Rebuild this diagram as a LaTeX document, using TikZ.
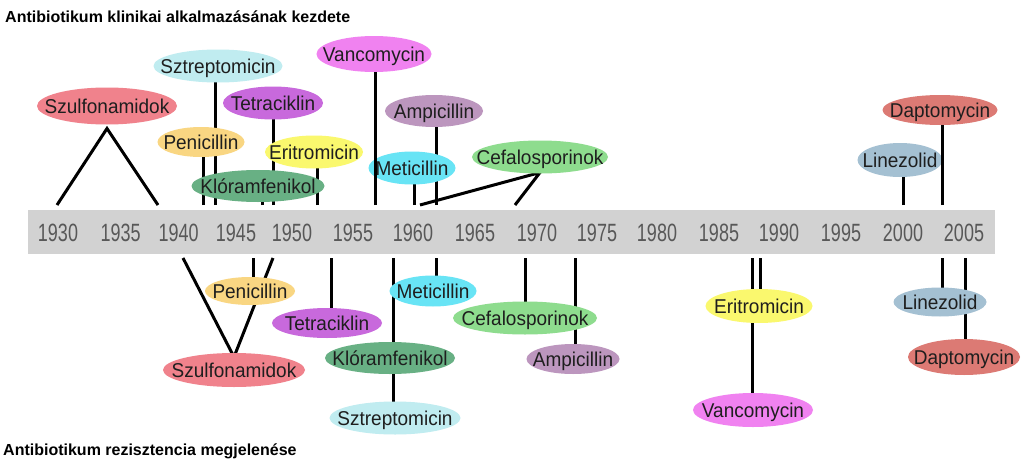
\documentclass[tikz,border=0pt]{standalone}
\usepackage{fontspec}
\setmainfont{Liberation Sans}
\newfontfamily\pillfont[FakeStretch=0.95]{Liberation Sans}
\newfontfamily\yearfont[FakeStretch=0.72]{Liberation Sans}
\usetikzlibrary{shapes.geometric}
\pgfdeclarelayer{bg}
\pgfdeclarelayer{fg}
\pgfsetlayers{bg,main,fg}
\definecolor{cSzulf}{RGB}{240,130,140}
\definecolor{cSzt}{RGB}{192,236,240}
\definecolor{cPen}{RGB}{249,214,130}
\definecolor{cTet}{RGB}{200,105,220}
\definecolor{cEri}{RGB}{250,248,110}
\definecolor{cKlo}{RGB}{104,176,132}
\definecolor{cVan}{RGB}{240,130,240}
\definecolor{cAmp}{RGB}{188,150,190}
\definecolor{cMet}{RGB}{104,228,245}
\definecolor{cCef}{RGB}{142,220,142}
\definecolor{cLin}{RGB}{164,192,210}
\definecolor{cDap}{RGB}{220,122,116}
\definecolor{txt}{RGB}{30,30,30}
\definecolor{yeargray}{RGB}{88,88,88}
\definecolor{band}{RGB}{210,210,210}
\newcommand\pilltxt[1]{\makebox[0pt]{\raisebox{-0.36em}[0pt][0pt]{#1}}}
\begin{document}
\begin{tikzpicture}[x=1pt,y=-1pt,
  pill/.style={ellipse, inner sep=0pt, outer sep=0pt, text=txt, font=\pillfont\fontsize{20}{20}\selectfont},
  conn/.style={line width=3pt, black},
  yearlbl/.style={font=\yearfont\fontsize{25}{25}\selectfont, text=yeargray, inner sep=0pt},
  ttl/.style={font=\bfseries\fontsize{16}{16}\selectfont, inner sep=0pt, anchor=base west}]
\useasboundingbox (0,0) rectangle (1023,463);
\begin{pgfonlayer}{bg}
\fill[white] (0,0) rectangle (1023,463);
\fill[band] (28,210) rectangle (995,254);
\end{pgfonlayer}
% titles
\node[ttl] (ttop) at (5,23) {Antibiotikum klinikai alkalmazásának kezdete};
\node[ttl] (tbot) at (3,455) {Antibiotikum rezisztencia megjelenése};
% years
\foreach \yr/\xx in {1930/58,1935/120.7,1940/178.7,1945/236,1950/292,1955/353,1960/413,1965/475,1970/537,1975/597,1980/657,1985/719,1990/779,1995/841,2000/903,2005/964}
  \node[yearlbl] (y\yr) at (\xx,232.5) {\yr};
% top ellipses
\node[pill, fill=cSzulf, minimum width=140pt, minimum height=37pt] (szA) at (107,106) {\pilltxt{Szulfonamidok}};
\node[pill, fill=cSzt, minimum width=129pt, minimum height=33pt] (stA) at (218,66) {\pilltxt{Sztreptomicin}};
\node[pill, fill=cPen, minimum width=87pt, minimum height=30pt] (peA) at (201,142) {\pilltxt{Penicillin}};
\node[pill, fill=cTet, minimum width=100pt, minimum height=33pt] (teA) at (273,103) {\pilltxt{Tetraciklin}};
\node[pill, fill=cEri, minimum width=98pt, minimum height=33pt] (erA) at (314,152) {\pilltxt{Eritromicin}};
\node[pill, fill=cKlo, minimum width=133pt, minimum height=32pt] (klA) at (258,186) {\pilltxt{Klóramfenikol}};
\node[pill, fill=cVan, minimum width=115pt, minimum height=36pt] (vaA) at (374,54) {\pilltxt{Vancomycin}};
\node[pill, fill=cAmp, minimum width=98pt, minimum height=32pt] (amA) at (434,111) {\pilltxt{Ampicillin}};
\node[pill, fill=cMet, minimum width=87pt, minimum height=33pt] (meA) at (412,168) {\pilltxt{Meticillin}};
\node[pill, fill=cCef, minimum width=136pt, minimum height=33pt] (ceA) at (540,157) {\pilltxt{Cefalosporinok}};
\node[pill, fill=cDap, minimum width=115pt, minimum height=30pt] (daA) at (940,110) {\pilltxt{Daptomycin}};
\node[pill, fill=cLin, minimum width=85pt, minimum height=34pt] (liA) at (900,160) {\pilltxt{Linezolid}};
% bottom ellipses
\node[pill, fill=cSzulf, minimum width=142pt, minimum height=34pt] (szB) at (234,370) {\pilltxt{Szulfonamidok}};
\node[pill, fill=cPen, minimum width=90pt, minimum height=28pt] (peB) at (250,291) {\pilltxt{Penicillin}};
\node[pill, fill=cTet, minimum width=110pt, minimum height=30pt] (teB) at (327,323) {\pilltxt{Tetraciklin}};
\node[pill, fill=cMet, minimum width=87pt, minimum height=31pt] (meB) at (433,291) {\pilltxt{Meticillin}};
\node[pill, fill=cKlo, minimum width=130pt, minimum height=32pt] (klB) at (390,358) {\pilltxt{Klóramfenikol}};
\node[pill, fill=cSzt, minimum width=131pt, minimum height=33pt] (stB) at (395,418) {\pilltxt{Sztreptomicin}};
\node[pill, fill=cCef, minimum width=144pt, minimum height=33pt] (ceB) at (525,318) {\pilltxt{Cefalosporinok}};
\node[pill, fill=cAmp, minimum width=93pt, minimum height=30pt] (amB) at (573,359) {\pilltxt{Ampicillin}};
\node[pill, fill=cEri, minimum width=107pt, minimum height=34pt] (erB) at (759,306) {\pilltxt{Eritromicin}};
\node[pill, fill=cVan, minimum width=120pt, minimum height=34pt] (vaB) at (753,410) {\pilltxt{Vancomycin}};
\node[pill, fill=cLin, minimum width=93pt, minimum height=29pt] (liB) at (940,302) {\pilltxt{Linezolid}};
\node[pill, fill=cDap, minimum width=112pt, minimum height=36pt] (daB) at (964,357) {\pilltxt{Daptomycin}};
% anchor points on the band
\foreach \nm/\xx in {a1/57,a2/158,a3/215,a4/203,a5/273,a6/317,a7/262,a8/375,a9/436,a10/414,a11/420,a12/515,a13/903,a14/942}
  \coordinate (\nm) at (\xx,205);
\foreach \nm/\xx in {b1/183,b2/273,b3/253,b4/331,b5/393,b6/436,b7/525,b8/575,b9/752,b10/760,b11/942,b12/965}
  \coordinate (\nm) at (\xx,258);
\begin{pgfonlayer}{bg}
\draw[conn] (a1) -- ([yshift=-4pt]szA.south) -- (a2);
\draw[conn] (a3) -- (a3 |- stA.center);
\draw[conn] (a4) -- (a4 |- peA.center);
\draw[conn] (a5) -- (a5 |- teA.center);
\draw[conn] (a6) -- (a6 |- erA.center);
\draw[conn] (a7) -- (a7 |- klA.center);
\draw[conn] (a9) -- (a9 |- amA.center);
\draw[conn] (a10) -- (a10 |- meA.center);
\draw[conn] (a11) -- ([yshift=1pt]ceA.south) -- (a12);
\draw[conn] (a13) -- (a13 |- liA.center);
\draw[conn] (b1) -- ([yshift=-4pt]szB.north) -- (b2);
\draw[conn] (b3) -- (b3 |- peB.center);
\draw[conn] (b4) -- (b4 |- teB.center);
\draw[conn] (b5) -- (b5 |- stB.center);
\draw[conn] (b6) -- (b6 |- meB.center);
\draw[conn] (b7) -- (b7 |- ceB.center);
\draw[conn] (b8) -- (b8 |- amB.center);
\draw[conn] (b9) -- (b9 |- vaB.center);
\draw[conn] (b10) -- (b10 |- erB.center);
\draw[conn] (b11) -- (b11 |- liB.center);
\draw[conn] (b12) -- (b12 |- daB.center);
\end{pgfonlayer}
\begin{pgfonlayer}{fg}
\draw[conn] (a8) -- (a8 |- vaA.south);
\draw[conn] (a14) -- (a14 |- daA.south);
\end{pgfonlayer}
\end{tikzpicture}
\end{document}
